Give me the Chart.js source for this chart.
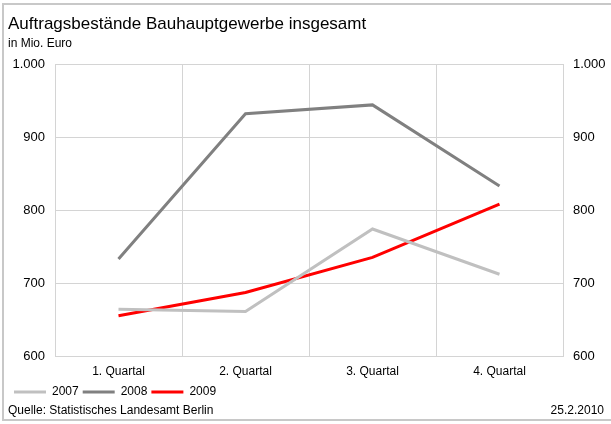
<!DOCTYPE html>
<html>
<head>
<meta charset="utf-8">
<script src="https://cdn.jsdelivr.net/npm/chart.js@4/dist/chart.umd.min.js"></script>
<style>
  html, body { margin: 0; padding: 0; background: #fff; }
  #chart { display: block; }
</style>
</head>
<body>
<canvas id="chart" width="611" height="424"></canvas>
<script>
const quarters = ['1. Quartal', '2. Quartal', '3. Quartal', '4. Quartal'];
const years = ['2007', '2008', '2009'];
const values2007 = [664, 661, 774, 712];
const values2008 = [733, 932, 944, 833];
const values2009 = [655, 687, 735, 808];
const yTicks = [600, 700, 800, 900, 1000];

const lineColors = ['#c0c0c0', '#808080', '#ff0000'];
const gridColor = '#d4d4d4';
const FONT = '"Liberation Sans", Arial, sans-serif';

// thousands separator with a dot, as in German
const fmt = v => v.toLocaleString('de-DE');

// frame, heading and footer texts
const textPlugin = {
    id: 'texts',
    beforeDraw(chart) {
        const ctx = chart.ctx;
        ctx.save();
        ctx.strokeStyle = '#c8c8c8';
        ctx.lineWidth = 2;
        ctx.strokeRect(3, 4, 620, 416);
        ctx.restore();
    },
    afterDraw(chart) {
        const ctx = chart.ctx;
        ctx.save();
        ctx.fillStyle = '#000';
        ctx.textBaseline = 'alphabetic';
        ctx.textAlign = 'left';
        ctx.font = '17px ' + FONT;
        ctx.fillText('Auftragsbestände Bauhauptgewerbe insgesamt', 8, 29);
        ctx.font = '12px ' + FONT;
        ctx.fillText('in Mio. Euro', 8, 47);
        ctx.fillText('Quelle: Statistisches Landesamt Berlin', 8, 414);
        ctx.textAlign = 'right';
        ctx.fillText('25.2.2010', 604, 414);
        ctx.restore();
    }
};

const series = [values2007, values2008, values2009];

new Chart(document.getElementById('chart'), {
    type: 'line',
    data: {
        labels: quarters,
        datasets: years.map((y, i) => ({
            label: y,
            data: series[i],
            borderColor: lineColors[i],
            backgroundColor: lineColors[i],
            borderWidth: 3,
            pointRadius: 0,
            pointStyle: 'line',
            tension: 0,
            yAxisID: 'y'
        }))
    },
    options: {
        responsive: false,
        animation: false,
        layout: { padding: { left: 10, right: 6, top: 64, bottom: 16 } },
        scales: {
            x: {
                offset: true,
                grid: { offset: true, color: gridColor, drawTicks: false },
                border: { color: gridColor },
                ticks: { color: '#000', font: { family: FONT, size: 12 }, padding: 8 },
                afterFit(scale) { scale.height = 26; }
            },
            y: {
                position: 'left',
                min: 600,
                max: 1000,
                afterBuildTicks(scale) { scale.ticks = yTicks.map(v => ({ value: v })); },
                grid: { color: gridColor, drawTicks: false },
                border: { color: gridColor },
                ticks: { color: '#000', font: { family: FONT, size: 13 }, padding: 10, callback: fmt },
                afterFit(scale) { scale.width = 45; }
            },
            y2: {
                position: 'right',
                min: 600,
                max: 1000,
                afterBuildTicks(scale) { scale.ticks = yTicks.map(v => ({ value: v })); },
                grid: { drawOnChartArea: false, drawTicks: false },
                border: { color: gridColor },
                ticks: { color: '#000', font: { family: FONT, size: 13 }, padding: 10, callback: fmt },
                afterFit(scale) { scale.width = 42; }
            }
        },
        plugins: {
            legend: {
                position: 'bottom',
                align: 'start',
                labels: {
                    color: '#000',
                    font: { family: FONT, size: 12 },
                    usePointStyle: true,
                    pointStyleWidth: 32,
                    padding: 4
                }
            },
            tooltip: { enabled: false }
        }
    },
    plugins: [textPlugin]
});
</script>
</body>
</html>
